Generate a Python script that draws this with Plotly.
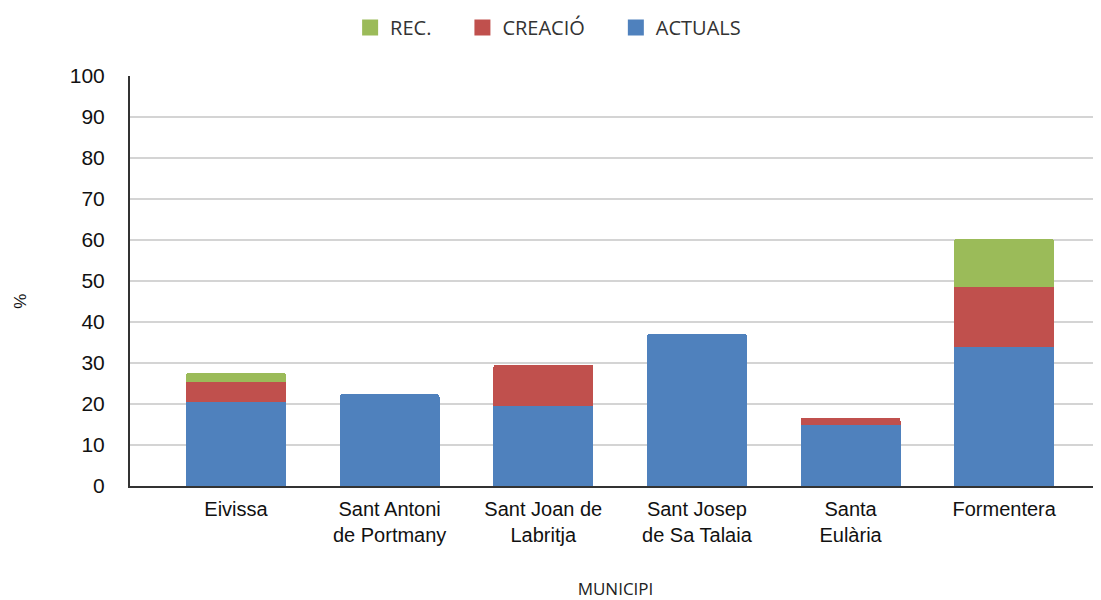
import plotly.graph_objects as go

municipis = ["Eivissa", "Sant Antoni<br>de Portmany", "Sant Joan de<br>Labritja",
             "Sant Josep<br>de Sa Talaia", "Santa<br>Eulària", "Formentera"]
actuals = [20.5, 22.4, 19.5, 37.1, 14.9, 33.9]
creacio = [4.8, 0, 10.1, 0, 1.8, 14.6]
rec = [2.3, 0, 0, 0, 0, 11.8]

series = [("ACTUALS", actuals, "#4F81BD"), ("CREACIÓ", creacio, "#C0504D"), ("REC.", rec, "#9BBB59")]

fig = go.Figure()
for name, vals, col in series:
    fig.add_trace(go.Bar(x=municipis, y=vals, name=name, marker_color=col,
                         width=0.65, marker_line_width=0, showlegend=False))
# legend entries with bigger squares (extra nbsp for the wider gaps)
for name, vals, col in series:
    fig.add_trace(go.Scatter(x=[None], y=[None], mode="markers", name=name + "\u00a0" * 5,
                             marker=dict(symbol="square", size=16, color=col)))

# page body has an 8px margin, so size the figure to fit inside the window
fig.update_layout(
    barmode="stack",
    barcornerradius=3,
    width=1093, height=592,
    margin=dict(l=122, r=0, t=65, b=114),
    plot_bgcolor="white",
    paper_bgcolor="white",
    font=dict(family="Liberation Sans, Arial", size=20, color="#111"),
    legend=dict(orientation="h", traceorder="reversed", x=0.444, xanchor="center",
                y=1.119, yanchor="middle", font=dict(family="Open Sans", size=20, color="#333"),
                itemwidth=30),
    xaxis=dict(range=[-0.69, 5.63], showline=True, linecolor="#333", linewidth=2,
               tickfont=dict(size=20), ticklabelstandoff=4, automargin=False,
               title=dict(text="MUNICIPI", font=dict(family="Open Sans", size=17, color="#222"),
                          standoff=41)),
    yaxis=dict(range=[0, 100], dtick=10, showline=True, linecolor="#333", linewidth=2,
               gridcolor="#d4d4d4", gridwidth=1.5, zeroline=False, ticklabelstandoff=19,
               tickfont=dict(size=21), automargin=False),
    annotations=[dict(text="%", textangle=-90, xref="paper", yref="paper", x=-0.125, y=0.45,
                      showarrow=False, font=dict(size=17, color="#111"))],
)

fig.write_html("out.html")
